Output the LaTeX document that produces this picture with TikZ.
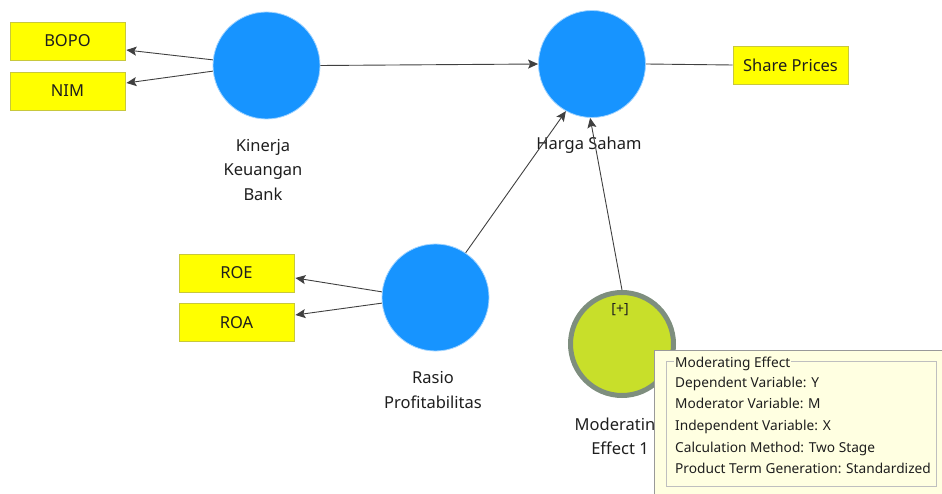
\documentclass[tikz,border=0pt]{standalone}
\usepackage{fontspec}
\setmainfont{Noto Sans}
\usetikzlibrary{arrows.meta,calc}
\definecolor{lvblue}{RGB}{23,148,255}
\definecolor{modfill}{RGB}{200,223,42}
\definecolor{modring}{RGB}{126,142,126}
\definecolor{indfill}{RGB}{255,255,0}
\definecolor{indline}{RGB}{200,200,60}
\definecolor{tipfill}{RGB}{255,255,225}
\definecolor{txt}{RGB}{30,30,30}
\tikzset{
  lv/.style={circle, fill=lvblue, draw=lvblue!40, line width=0.8pt, minimum size=107pt, inner sep=0pt},
  modlv/.style={circle, fill=modfill, draw=modring, line width=5pt, minimum size=103pt, inner sep=0pt},
  ind/.style={rectangle, fill=indfill, draw=indline, line width=0.8pt, minimum width=115pt, minimum height=38pt, inner sep=0pt, text=txt, font=\fontsize{16.5}{20}\selectfont},
  lbl/.style={align=center, text=txt, font=\fontsize{16.5}{24.5}\selectfont, inner sep=0pt},
  tipline/.style={anchor=base west, text=txt, font=\fontsize{13.7}{17}\selectfont, inner sep=0pt},
  arr/.style={draw=black!75, line width=0.9pt, -{Stealth[length=10pt,width=9pt,inset=2pt]}},
  con/.style={draw=black!75, line width=0.9pt}
}
\begin{document}
\begin{tikzpicture}[x=1pt,y=-1pt]
\useasboundingbox (0,0) rectangle (942,494);
% indicators
\node[ind] (bopo) at (67.5,41) {BOPO};
\node[ind] (nim) at (67.5,91) {NIM};
\node[ind] (roe) at (236.5,273) {ROE};
\node[ind] (roa) at (236.5,322.5) {ROA};
\node[ind] (share) at (790.5,65) {Share Prices};
% latent variables
\node[lv] (kin) at (266.5,65.5) {};
\node[lv] (harga) at (592,64) {};
\node[lv] (rasio) at (435.5,297.5) {};
\node[modlv] (mod) at (622,344) {};
% labels
\node[lbl] (kinlbl) at (263,170) {Kinerja\\Keuangan\\Bank};
\node[lbl] (hargalbl) at (589,145) {Harga Saham};
\node[lbl] (rasiolbl) at (433,390) {Rasio\\Profitabilitas};
\node[lbl] (modlbl) at (620,436.5) {Moderating\\Effect 1};
\node[lbl, font=\fontsize{14}{16}\selectfont] (plus) at (620,310) {[+]};
% connectors
\draw[arr] (kin.174) -- ($(bopo.east)+(1,9)$);
\draw[arr] (kin.186) -- ($(nim.east)+(1,-8)$);
\draw[arr] (rasio.174) -- ($(roe.east)+(1,5)$);
\draw[arr] (rasio.186) -- ($(roa.east)+(1,-7.5)$);
\draw[arr] (kin.east) -- (harga.west);
\draw[con] (harga.east) -- (share.west);
\draw[arr] (rasio.56) -- (harga.241);
\draw[arr] (mod.north) -- (harga.268);
% tooltip
\node[draw=black!40, fill=tipfill, line width=0.8pt, minimum width=300pt, minimum height=150pt, anchor=north west, inner sep=0pt] (tip) at (654,350) {};
\node[draw=black!25, line width=0.8pt, minimum width=270pt, minimum height=125pt, anchor=north west, inner sep=0pt] (group) at (666,361) {};
\node[tipline, fill=tipfill, inner xsep=1pt, inner ysep=1pt] (t0) at (674,367) {Moderating Effect};
\node[tipline] (t1) at (675,387) {Dependent Variable: Y};
\node[tipline] (t2) at (675,408.5) {Moderator Variable: M};
\node[tipline] (t3) at (675,430) {Independent Variable: X};
\node[tipline] (t4) at (675,452) {Calculation Method: Two Stage};
\node[tipline] (t5) at (675,473.5) {Product Term Generation: Standardized};
\end{tikzpicture}
\end{document}
